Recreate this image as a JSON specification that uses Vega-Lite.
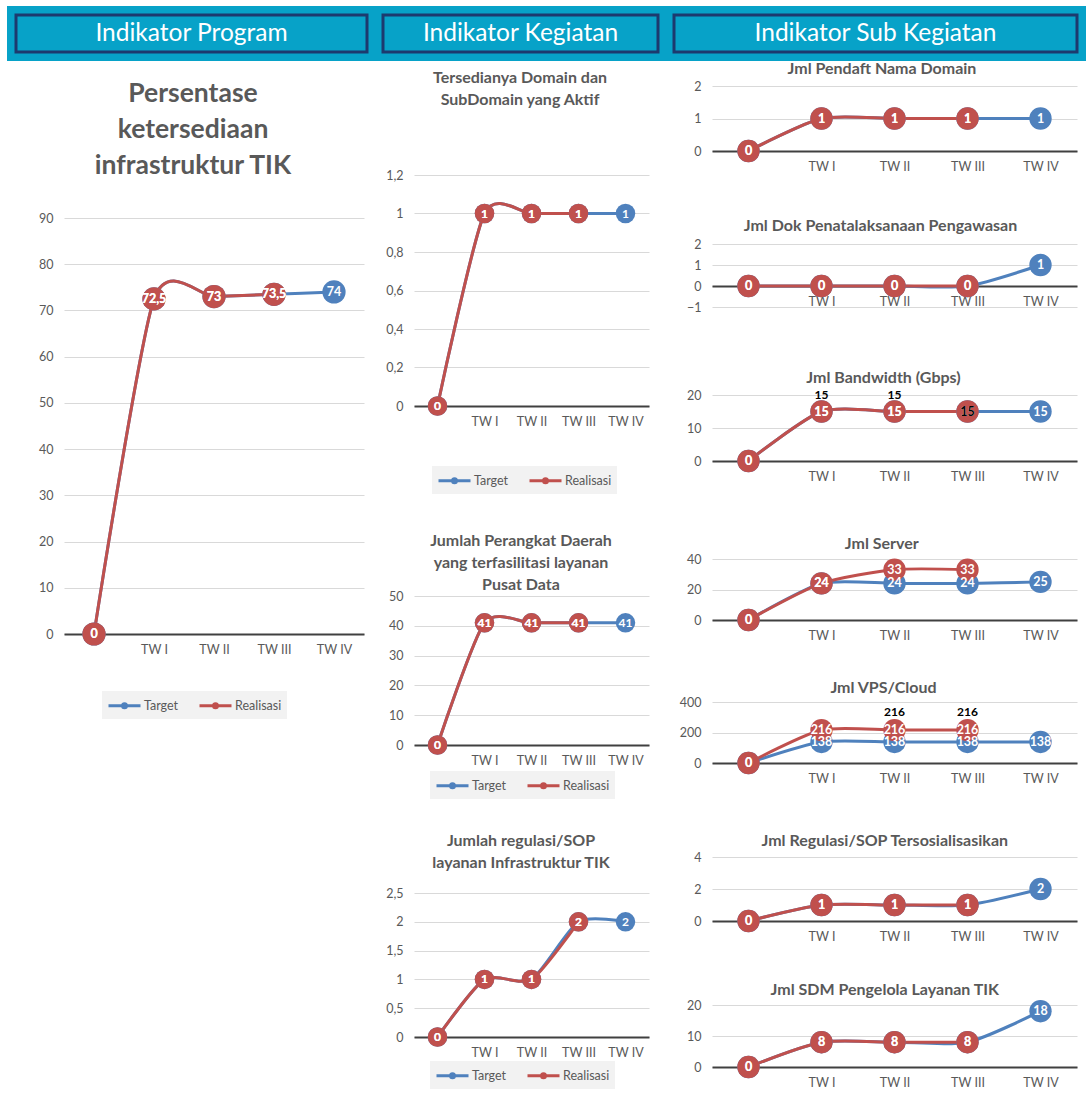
{
  "$schema": "https://vega.github.io/schema/vega-lite/v6.json",
  "background": "white",
  "padding": {"left": 5, "top": 4, "right": 0, "bottom": 0},
  "autosize": {"type": "pad"},
  "config": {
    "font": "Lato",
    "view": {"stroke": null},
    "axis": {"labelFont": "Lato", "labelColor": "#595959", "labelFontSize": 12.5, "ticks": false, "tickSize": 0, "gridColor": "#D9D9D9", "gridWidth": 1, "labelOverlap": false},
    "axisX": {"grid": false, "domain": true, "domainColor": "#404040", "domainWidth": 2, "labelPadding": 9, "labelAngle": 0},
    "axisY": {"grid": true, "domain": false, "labelPadding": 11},
    "title": {"font": "Lato", "fontWeight": "bold", "color": "#595959", "anchor": "middle", "frame": "group"},
    "locale": {"number": {"decimal": ",", "thousands": ".", "grouping": [3], "currency": ["Rp", ""]}}
  },
  "datasets": {
    "p1": [
      {"q": "", "seri": "Target", "v": 0}, {"q": "TW I", "seri": "Target", "v": 72.5}, {"q": "TW II", "seri": "Target", "v": 73}, {"q": "TW III", "seri": "Target", "v": 73.5}, {"q": "TW IV", "seri": "Target", "v": 74},
      {"q": "", "seri": "Realisasi", "v": 0}, {"q": "TW I", "seri": "Realisasi", "v": 72.5}, {"q": "TW II", "seri": "Realisasi", "v": 73}, {"q": "TW III", "seri": "Realisasi", "v": 73.5}
    ],
    "a": [
      {"q": "", "seri": "Target", "v": 0}, {"q": "TW I", "seri": "Target", "v": 1}, {"q": "TW II", "seri": "Target", "v": 1}, {"q": "TW III", "seri": "Target", "v": 1}, {"q": "TW IV", "seri": "Target", "v": 1},
      {"q": "", "seri": "Realisasi", "v": 0}, {"q": "TW I", "seri": "Realisasi", "v": 1}, {"q": "TW II", "seri": "Realisasi", "v": 1}, {"q": "TW III", "seri": "Realisasi", "v": 1}
    ],
    "b": [
      {"q": "", "seri": "Target", "v": 0}, {"q": "TW I", "seri": "Target", "v": 41}, {"q": "TW II", "seri": "Target", "v": 41}, {"q": "TW III", "seri": "Target", "v": 41}, {"q": "TW IV", "seri": "Target", "v": 41},
      {"q": "", "seri": "Realisasi", "v": 0}, {"q": "TW I", "seri": "Realisasi", "v": 41}, {"q": "TW II", "seri": "Realisasi", "v": 41}, {"q": "TW III", "seri": "Realisasi", "v": 41}
    ],
    "c": [
      {"q": "", "seri": "Target", "v": 0}, {"q": "TW I", "seri": "Target", "v": 1}, {"q": "TW II", "seri": "Target", "v": 1}, {"q": "TW III", "seri": "Target", "v": 2}, {"q": "TW IV", "seri": "Target", "v": 2},
      {"q": "", "seri": "Realisasi", "v": 0}, {"q": "TW I", "seri": "Realisasi", "v": 1}, {"q": "TW II", "seri": "Realisasi", "v": 1}, {"q": "TW III", "seri": "Realisasi", "v": 2}
    ],
    "r1": [
      {"q": "", "seri": "Target", "v": 0}, {"q": "TW I", "seri": "Target", "v": 1}, {"q": "TW II", "seri": "Target", "v": 1}, {"q": "TW III", "seri": "Target", "v": 1}, {"q": "TW IV", "seri": "Target", "v": 1},
      {"q": "", "seri": "Realisasi", "v": 0}, {"q": "TW I", "seri": "Realisasi", "v": 1}, {"q": "TW II", "seri": "Realisasi", "v": 1}, {"q": "TW III", "seri": "Realisasi", "v": 1}
    ],
    "r2": [
      {"q": "", "seri": "Target", "v": 0}, {"q": "TW I", "seri": "Target", "v": 0}, {"q": "TW II", "seri": "Target", "v": 0}, {"q": "TW III", "seri": "Target", "v": 0}, {"q": "TW IV", "seri": "Target", "v": 1},
      {"q": "", "seri": "Realisasi", "v": 0}, {"q": "TW I", "seri": "Realisasi", "v": 0}, {"q": "TW II", "seri": "Realisasi", "v": 0}, {"q": "TW III", "seri": "Realisasi", "v": 0}
    ],
    "r3": [
      {"q": "", "seri": "Target", "v": 0}, {"q": "TW I", "seri": "Target", "v": 15}, {"q": "TW II", "seri": "Target", "v": 15}, {"q": "TW III", "seri": "Target", "v": 15}, {"q": "TW IV", "seri": "Target", "v": 15},
      {"q": "", "seri": "Realisasi", "v": 0}, {"q": "TW I", "seri": "Realisasi", "v": 15}, {"q": "TW II", "seri": "Realisasi", "v": 15}, {"q": "TW III", "seri": "Realisasi", "v": 15}
    ],
    "r3x": [{"q": "TW I", "v": 15}, {"q": "TW II", "v": 15}],
    "r4": [
      {"q": "", "seri": "Target", "v": 0}, {"q": "TW I", "seri": "Target", "v": 24}, {"q": "TW II", "seri": "Target", "v": 24}, {"q": "TW III", "seri": "Target", "v": 24}, {"q": "TW IV", "seri": "Target", "v": 25},
      {"q": "", "seri": "Realisasi", "v": 0}, {"q": "TW I", "seri": "Realisasi", "v": 24}, {"q": "TW II", "seri": "Realisasi", "v": 33}, {"q": "TW III", "seri": "Realisasi", "v": 33}
    ],
    "r5": [
      {"q": "", "seri": "Target", "v": 0}, {"q": "TW I", "seri": "Target", "v": 138}, {"q": "TW II", "seri": "Target", "v": 138}, {"q": "TW III", "seri": "Target", "v": 138}, {"q": "TW IV", "seri": "Target", "v": 138},
      {"q": "", "seri": "Realisasi", "v": 0}, {"q": "TW I", "seri": "Realisasi", "v": 216}, {"q": "TW II", "seri": "Realisasi", "v": 216}, {"q": "TW III", "seri": "Realisasi", "v": 216}
    ],
    "r5x": [{"q": "TW II", "v": 216}, {"q": "TW III", "v": 216}],
    "r6": [
      {"q": "", "seri": "Target", "v": 0}, {"q": "TW I", "seri": "Target", "v": 1}, {"q": "TW II", "seri": "Target", "v": 1}, {"q": "TW III", "seri": "Target", "v": 1}, {"q": "TW IV", "seri": "Target", "v": 2},
      {"q": "", "seri": "Realisasi", "v": 0}, {"q": "TW I", "seri": "Realisasi", "v": 1}, {"q": "TW II", "seri": "Realisasi", "v": 1}, {"q": "TW III", "seri": "Realisasi", "v": 1}
    ],
    "r7": [
      {"q": "", "seri": "Target", "v": 0}, {"q": "TW I", "seri": "Target", "v": 8}, {"q": "TW II", "seri": "Target", "v": 8}, {"q": "TW III", "seri": "Target", "v": 8}, {"q": "TW IV", "seri": "Target", "v": 18},
      {"q": "", "seri": "Realisasi", "v": 0}, {"q": "TW I", "seri": "Realisasi", "v": 8}, {"q": "TW II", "seri": "Realisasi", "v": 8}, {"q": "TW III", "seri": "Realisasi", "v": 8}
    ]
  },
  "bounds": "flush",
  "spacing": 71,
  "resolve": {"scale": {"color": "independent", "fill": "independent"}, "legend": {"color": "independent", "fill": "independent"}},
  "vconcat": [
    {
      "hconcat": [
        {"width": 351, "height": 37, "data": {"values": [{"judul": "Indikator Program"}]}, "view": {"fill": "#07A2C8", "stroke": "#07A2C8", "strokeWidth": 18},
         "layer": [{"mark": {"type": "rect", "fill": "#07A2C8", "stroke": "#1D3A6E", "strokeWidth": 3}}, {"mark": {"type": "text", "color": "white", "fontSize": 24.5, "font": "Lato"}, "encoding": {"text": {"field": "judul"}}}]},
        {"width": 275, "height": 37, "data": {"values": [{"judul": "Indikator Kegiatan"}]}, "view": {"fill": "#07A2C8", "stroke": "#07A2C8", "strokeWidth": 18},
         "layer": [{"mark": {"type": "rect", "fill": "#07A2C8", "stroke": "#1D3A6E", "strokeWidth": 3}}, {"mark": {"type": "text", "color": "white", "fontSize": 24.5, "font": "Lato"}, "encoding": {"text": {"field": "judul"}}}]},
        {"width": 403, "height": 37, "data": {"values": [{"judul": "Indikator Sub Kegiatan"}]}, "view": {"fill": "#07A2C8", "stroke": "#07A2C8", "strokeWidth": 18},
         "layer": [{"mark": {"type": "rect", "fill": "#07A2C8", "stroke": "#1D3A6E", "strokeWidth": 3}}, {"mark": {"type": "text", "color": "white", "fontSize": 24.5, "font": "Lato"}, "encoding": {"text": {"field": "judul"}}}]}
      ],
      "bounds": "flush",
      "spacing": 16
    },
    {
      "bounds": "flush",
      "spacing": 47,
      "resolve": {"scale": {"color": "independent", "fill": "independent"}, "legend": {"color": "independent", "fill": "independent"}},
      "hconcat": [
        {"width": 1, "height": 1, "data": {"values": []}, "mark": "point"},
        {
          "bounds": "flush",
          "spacing": 350,
          "resolve": {"scale": {"color": "independent", "fill": "independent"}, "legend": {"color": "independent", "fill": "independent"}},
          "hconcat": [
            {
              "bounds": "flush",
              "spacing": 131,
              "resolve": {"scale": {"color": "independent", "fill": "independent"}, "legend": {"color": "independent", "fill": "independent"}},
              "vconcat": [
                {"width": 1, "height": 1, "data": {"values": []}, "mark": "point"},
                {
                  "width": 300, "height": 416, "data": {"name": "p1"},
                  "title": {"text": ["Persentase", "ketersediaan", "infrastruktur TIK"], "fontSize": 26.5, "lineHeight": 36, "offset": 33, "dx": -21},
                  "encoding": {
                    "x": {"field": "q", "type": "nominal", "scale": {"type": "point", "padding": 0.5, "domain": ["", "TW I", "TW II", "TW III", "TW IV"]}, "axis": {"title": null, "labelAngle": 0}},
                    "y": {"field": "v", "type": "quantitative", "scale": {"domain": [0, 90], "nice": false}, "axis": {"title": null, "values": [0, 10, 20, 30, 40, 50, 60, 70, 80, 90], "format": "~f"}}
                  },
                  "layer": [
                    {"transform": [{"filter": "datum.seri == 'Target'"}], "mark": {"type": "line", "interpolate": "cardinal", "tension": 0.3, "strokeWidth": 3}, "encoding": {"color": {"field": "seri", "type": "nominal", "scale": {"domain": ["Target", "Realisasi"], "range": ["#4F81BD", "#C0504D"]}, "legend": {"orient": "none", "legendX": 38, "legendY": 473, "direction": "horizontal", "title": null, "symbolType": "M-1,0L3,0M0.75,0A0.25,0.25,0,1,1,1.25,0A0.25,0.25,0,1,1,0.75,0Z", "symbolSize": 256, "symbolStrokeWidth": 3, "labelOffset": 18, "columnPadding": 14, "padding": 5, "fillColor": "#F2F2F2", "labelFontSize": 12.5, "labelColor": "#595959", "labelFont": "Lato"}}}},
                    {"transform": [{"filter": "datum.seri == 'Realisasi'"}], "mark": {"type": "line", "interpolate": "cardinal", "tension": 0.3, "strokeWidth": 3}, "encoding": {"color": {"field": "seri", "type": "nominal", "scale": {"domain": ["Target", "Realisasi"], "range": ["#4F81BD", "#C0504D"]}, "legend": {"orient": "none", "legendX": 38, "legendY": 473, "direction": "horizontal", "title": null, "symbolType": "M-1,0L3,0M0.75,0A0.25,0.25,0,1,1,1.25,0A0.25,0.25,0,1,1,0.75,0Z", "symbolSize": 256, "symbolStrokeWidth": 3, "labelOffset": 18, "columnPadding": 14, "padding": 5, "fillColor": "#F2F2F2", "labelFontSize": 12.5, "labelColor": "#595959", "labelFont": "Lato"}}}},
                    {"mark": {"type": "point", "filled": true, "opacity": 1, "size": 540}, "encoding": {"fill": {"field": "seri", "type": "nominal", "scale": {"domain": ["Target", "Realisasi"], "range": ["#4F81BD", "#C0504D"]}, "legend": null}}},
                    {"mark": {"type": "text", "color": "white", "fontWeight": "bold", "fontSize": 12.5}, "encoding": {"text": {"field": "v", "type": "quantitative", "format": "~g"}}}
                  ]
                }
              ]
            },
            {
              "bounds": "flush",
              "spacing": 298,
              "resolve": {"scale": {"color": "independent", "fill": "independent"}, "legend": {"color": "independent", "fill": "independent"}},
              "hconcat": [
                {
                  "bounds": "flush",
                  "spacing": 88,
                  "resolve": {"scale": {"color": "independent", "fill": "independent"}, "legend": {"color": "independent", "fill": "independent"}},
                  "vconcat": [
                    {"width": 1, "height": 1, "data": {"values": []}, "mark": "point"},
                    {
                      "bounds": "flush",
                      "spacing": 190,
                      "resolve": {"scale": {"color": "independent", "fill": "independent"}, "legend": {"color": "independent", "fill": "independent"}},
                      "vconcat": [
                        {
                          "width": 235, "height": 231, "data": {"name": "a"},
                          "title": {"text": ["Tersedianya Domain dan", "SubDomain yang Aktif"], "fontSize": 16, "lineHeight": 22, "offset": 61, "dx": -11.5},
                          "encoding": {
                            "x": {"field": "q", "type": "nominal", "scale": {"type": "point", "padding": 0.5, "domain": ["", "TW I", "TW II", "TW III", "TW IV"]}, "axis": {"title": null, "labelAngle": 0}},
                            "y": {"field": "v", "type": "quantitative", "scale": {"domain": [0, 1.2], "nice": false}, "axis": {"title": null, "values": [0, 0.2, 0.4, 0.6, 0.8, 1, 1.2], "format": "~f"}}
                          },
                          "layer": [
                            {"transform": [{"filter": "datum.seri == 'Target'"}], "mark": {"type": "line", "interpolate": "cardinal", "tension": 0.3, "strokeWidth": 3}, "encoding": {"color": {"field": "seri", "type": "nominal", "scale": {"domain": ["Target", "Realisasi"], "range": ["#4F81BD", "#C0504D"]}, "legend": {"orient": "none", "legendX": 18, "legendY": 291, "direction": "horizontal", "title": null, "symbolType": "M-1,0L3,0M0.75,0A0.25,0.25,0,1,1,1.25,0A0.25,0.25,0,1,1,0.75,0Z", "symbolSize": 256, "symbolStrokeWidth": 3, "labelOffset": 18, "columnPadding": 14, "padding": 5, "fillColor": "#F2F2F2", "labelFontSize": 12.5, "labelColor": "#595959", "labelFont": "Lato"}}}},
                            {"transform": [{"filter": "datum.seri == 'Realisasi'"}], "mark": {"type": "line", "interpolate": "cardinal", "tension": 0.3, "strokeWidth": 3}, "encoding": {"color": {"field": "seri", "type": "nominal", "scale": {"domain": ["Target", "Realisasi"], "range": ["#4F81BD", "#C0504D"]}, "legend": {"orient": "none", "legendX": 18, "legendY": 291, "direction": "horizontal", "title": null, "symbolType": "M-1,0L3,0M0.75,0A0.25,0.25,0,1,1,1.25,0A0.25,0.25,0,1,1,0.75,0Z", "symbolSize": 256, "symbolStrokeWidth": 3, "labelOffset": 18, "columnPadding": 14, "padding": 5, "fillColor": "#F2F2F2", "labelFontSize": 12.5, "labelColor": "#595959", "labelFont": "Lato"}}}},
                            {"mark": {"type": "point", "filled": true, "opacity": 1, "size": 380}, "encoding": {"fill": {"field": "seri", "type": "nominal", "scale": {"domain": ["Target", "Realisasi"], "range": ["#4F81BD", "#C0504D"]}, "legend": null}}},
                            {"mark": {"type": "text", "color": "white", "fontWeight": "bold", "fontSize": 12}, "encoding": {"text": {"field": "v", "type": "quantitative", "format": "~g"}}}
                          ]
                        },
                        {
                          "bounds": "flush",
                          "spacing": 148,
                          "resolve": {"scale": {"color": "independent", "fill": "independent"}, "legend": {"color": "independent", "fill": "independent"}},
                          "vconcat": [
                            {
                              "width": 235, "height": 149, "data": {"name": "b"},
                              "title": {"text": ["Jumlah Perangkat Daerah", "yang terfasilitasi layanan", "Pusat Data"], "fontSize": 16, "lineHeight": 22, "offset": -3, "dx": -10.5},
                              "encoding": {
                                "x": {"field": "q", "type": "nominal", "scale": {"type": "point", "padding": 0.5, "domain": ["", "TW I", "TW II", "TW III", "TW IV"]}, "axis": {"title": null, "labelAngle": 0}},
                                "y": {"field": "v", "type": "quantitative", "scale": {"domain": [0, 50], "nice": false}, "axis": {"title": null, "values": [0, 10, 20, 30, 40, 50], "format": "~f"}}
                              },
                              "layer": [
                                {"transform": [{"filter": "datum.seri == 'Target'"}], "mark": {"type": "line", "interpolate": "cardinal", "tension": 0.3, "strokeWidth": 3}, "encoding": {"color": {"field": "seri", "type": "nominal", "scale": {"domain": ["Target", "Realisasi"], "range": ["#4F81BD", "#C0504D"]}, "legend": {"orient": "none", "legendX": 16, "legendY": 175, "direction": "horizontal", "title": null, "symbolType": "M-1,0L3,0M0.75,0A0.25,0.25,0,1,1,1.25,0A0.25,0.25,0,1,1,0.75,0Z", "symbolSize": 256, "symbolStrokeWidth": 3, "labelOffset": 18, "columnPadding": 14, "padding": 5, "fillColor": "#F2F2F2", "labelFontSize": 12.5, "labelColor": "#595959", "labelFont": "Lato"}}}},
                                {"transform": [{"filter": "datum.seri == 'Realisasi'"}], "mark": {"type": "line", "interpolate": "cardinal", "tension": 0.3, "strokeWidth": 3}, "encoding": {"color": {"field": "seri", "type": "nominal", "scale": {"domain": ["Target", "Realisasi"], "range": ["#4F81BD", "#C0504D"]}, "legend": {"orient": "none", "legendX": 16, "legendY": 175, "direction": "horizontal", "title": null, "symbolType": "M-1,0L3,0M0.75,0A0.25,0.25,0,1,1,1.25,0A0.25,0.25,0,1,1,0.75,0Z", "symbolSize": 256, "symbolStrokeWidth": 3, "labelOffset": 18, "columnPadding": 14, "padding": 5, "fillColor": "#F2F2F2", "labelFontSize": 12.5, "labelColor": "#595959", "labelFont": "Lato"}}}},
                                {"mark": {"type": "point", "filled": true, "opacity": 1, "size": 380}, "encoding": {"fill": {"field": "seri", "type": "nominal", "scale": {"domain": ["Target", "Realisasi"], "range": ["#4F81BD", "#C0504D"]}, "legend": null}}},
                                {"mark": {"type": "text", "color": "white", "fontWeight": "bold", "fontSize": 12}, "encoding": {"text": {"field": "v", "type": "quantitative", "format": "~g"}}}
                              ]
                            },
                            {
                              "width": 235, "height": 144, "data": {"name": "c"},
                              "title": {"text": ["Jumlah regulasi/SOP", "layanan Infrastruktur TIK"], "fontSize": 16, "lineHeight": 22, "offset": 16, "dx": -10.5},
                              "encoding": {
                                "x": {"field": "q", "type": "nominal", "scale": {"type": "point", "padding": 0.5, "domain": ["", "TW I", "TW II", "TW III", "TW IV"]}, "axis": {"title": null, "labelAngle": 0}},
                                "y": {"field": "v", "type": "quantitative", "scale": {"domain": [0, 2.5], "nice": false}, "axis": {"title": null, "values": [0, 0.5, 1, 1.5, 2, 2.5], "format": "~f"}}
                              },
                              "layer": [
                                {"transform": [{"filter": "datum.seri == 'Target'"}], "mark": {"type": "line", "interpolate": "cardinal", "tension": 0.3, "strokeWidth": 3}, "encoding": {"color": {"field": "seri", "type": "nominal", "scale": {"domain": ["Target", "Realisasi"], "range": ["#4F81BD", "#C0504D"]}, "legend": {"orient": "none", "legendX": 16, "legendY": 168, "direction": "horizontal", "title": null, "symbolType": "M-1,0L3,0M0.75,0A0.25,0.25,0,1,1,1.25,0A0.25,0.25,0,1,1,0.75,0Z", "symbolSize": 256, "symbolStrokeWidth": 3, "labelOffset": 18, "columnPadding": 14, "padding": 5, "fillColor": "#F2F2F2", "labelFontSize": 12.5, "labelColor": "#595959", "labelFont": "Lato"}}}},
                                {"transform": [{"filter": "datum.seri == 'Realisasi'"}], "mark": {"type": "line", "interpolate": "cardinal", "tension": 0.3, "strokeWidth": 3}, "encoding": {"color": {"field": "seri", "type": "nominal", "scale": {"domain": ["Target", "Realisasi"], "range": ["#4F81BD", "#C0504D"]}, "legend": {"orient": "none", "legendX": 16, "legendY": 168, "direction": "horizontal", "title": null, "symbolType": "M-1,0L3,0M0.75,0A0.25,0.25,0,1,1,1.25,0A0.25,0.25,0,1,1,0.75,0Z", "symbolSize": 256, "symbolStrokeWidth": 3, "labelOffset": 18, "columnPadding": 14, "padding": 5, "fillColor": "#F2F2F2", "labelFontSize": 12.5, "labelColor": "#595959", "labelFont": "Lato"}}}},
                                {"mark": {"type": "point", "filled": true, "opacity": 1, "size": 380}, "encoding": {"fill": {"field": "seri", "type": "nominal", "scale": {"domain": ["Target", "Realisasi"], "range": ["#4F81BD", "#C0504D"]}, "legend": null}}},
                                {"mark": {"type": "text", "color": "white", "fontWeight": "bold", "fontSize": 12}, "encoding": {"text": {"field": "v", "type": "quantitative", "format": "~g"}}}
                              ]
                            }
                          ]
                        }
                      ]
                    }
                  ]
                },
                {
                  "bounds": "flush",
                  "spacing": 93,
                  "resolve": {"scale": {"color": "independent", "fill": "independent"}, "legend": {"color": "independent", "fill": "independent"}},
                  "vconcat": [
                    {
                      "width": 365, "height": 65, "data": {"name": "r1"},
                      "title": {"text": "Jml Pendaft Nama Domain", "fontSize": 16, "offset": 3, "dx": -12.5},
                      "encoding": {
                        "x": {"field": "q", "type": "nominal", "scale": {"type": "point", "padding": 0.5, "domain": ["", "TW I", "TW II", "TW III", "TW IV"]}, "axis": {"title": null, "labelAngle": 0}},
                        "y": {"field": "v", "type": "quantitative", "scale": {"domain": [0, 2], "nice": false}, "axis": {"title": null, "values": [0, 1, 2], "format": "~f"}}
                      },
                      "layer": [
                        {"transform": [{"filter": "datum.seri == 'Target'"}], "mark": {"type": "line", "interpolate": "cardinal", "tension": 0.3, "strokeWidth": 3}, "encoding": {"color": {"field": "seri", "type": "nominal", "scale": {"domain": ["Target", "Realisasi"], "range": ["#4F81BD", "#C0504D"]}, "legend": null}}},
                        {"transform": [{"filter": "datum.seri == 'Realisasi'"}], "mark": {"type": "line", "interpolate": "cardinal", "tension": 0.3, "strokeWidth": 3}, "encoding": {"color": {"field": "seri", "type": "nominal", "scale": {"domain": ["Target", "Realisasi"], "range": ["#4F81BD", "#C0504D"]}, "legend": null}}},
                        {"mark": {"type": "point", "filled": true, "opacity": 1, "size": 500}, "encoding": {"fill": {"field": "seri", "type": "nominal", "scale": {"domain": ["Target", "Realisasi"], "range": ["#4F81BD", "#C0504D"]}, "legend": null}}},
                        {"mark": {"type": "text", "color": "white", "fontWeight": "bold", "fontSize": 12.5}, "encoding": {"text": {"field": "v", "type": "quantitative", "format": "~g"}}}
                      ]
                    },
                    {
                      "bounds": "flush",
                      "spacing": 88,
                      "resolve": {"scale": {"color": "independent", "fill": "independent"}, "legend": {"color": "independent", "fill": "independent"}},
                      "vconcat": [
                        {
                          "width": 365, "height": 63, "data": {"name": "r2"},
                          "title": {"text": "Jml Dok Penatalaksanaan Pengawasan", "fontSize": 16, "offset": 4, "dx": -14},
                          "encoding": {
                            "x": {"field": "q", "type": "nominal", "scale": {"type": "point", "padding": 0.5, "domain": ["", "TW I", "TW II", "TW III", "TW IV"]}, "axis": {"title": null, "labelAngle": 0, "offset": -21}},
                            "y": {"field": "v", "type": "quantitative", "scale": {"domain": [-1, 2], "nice": false}, "axis": {"title": null, "values": [-1, 0, 1, 2], "format": "~f"}}
                          },
                          "layer": [
                            {"transform": [{"filter": "datum.seri == 'Target'"}], "mark": {"type": "line", "interpolate": "cardinal", "tension": 0.3, "strokeWidth": 3}, "encoding": {"color": {"field": "seri", "type": "nominal", "scale": {"domain": ["Target", "Realisasi"], "range": ["#4F81BD", "#C0504D"]}, "legend": null}}},
                            {"transform": [{"filter": "datum.seri == 'Realisasi'"}], "mark": {"type": "line", "interpolate": "cardinal", "tension": 0.3, "strokeWidth": 3}, "encoding": {"color": {"field": "seri", "type": "nominal", "scale": {"domain": ["Target", "Realisasi"], "range": ["#4F81BD", "#C0504D"]}, "legend": null}}},
                            {"mark": {"type": "point", "filled": true, "opacity": 1, "size": 500}, "encoding": {"fill": {"field": "seri", "type": "nominal", "scale": {"domain": ["Target", "Realisasi"], "range": ["#4F81BD", "#C0504D"]}, "legend": null}}},
                            {"mark": {"type": "text", "color": "white", "fontWeight": "bold", "fontSize": 12.5}, "encoding": {"text": {"field": "v", "type": "quantitative", "format": "~g"}}}
                          ]
                        },
                        {
                          "bounds": "flush",
                          "spacing": 98,
                          "resolve": {"scale": {"color": "independent", "fill": "independent"}, "legend": {"color": "independent", "fill": "independent"}},
                          "vconcat": [
                            {
                              "width": 365, "height": 66, "data": {"name": "r3"},
                              "title": {"text": "Jml Bandwidth (Gbps)", "fontSize": 16, "offset": 3, "dx": -11},
                              "encoding": {
                                "x": {"field": "q", "type": "nominal", "scale": {"type": "point", "padding": 0.5, "domain": ["", "TW I", "TW II", "TW III", "TW IV"]}, "axis": {"title": null, "labelAngle": 0}},
                                "y": {"field": "v", "type": "quantitative", "scale": {"domain": [0, 20], "nice": false}, "axis": {"title": null, "values": [0, 10, 20], "format": "~f"}}
                              },
                              "layer": [
                                {"transform": [{"filter": "datum.seri == 'Target'"}], "mark": {"type": "line", "interpolate": "cardinal", "tension": 0.3, "strokeWidth": 3}, "encoding": {"color": {"field": "seri", "type": "nominal", "scale": {"domain": ["Target", "Realisasi"], "range": ["#4F81BD", "#C0504D"]}, "legend": null}}},
                                {"transform": [{"filter": "datum.seri == 'Realisasi'"}], "mark": {"type": "line", "interpolate": "cardinal", "tension": 0.3, "strokeWidth": 3}, "encoding": {"color": {"field": "seri", "type": "nominal", "scale": {"domain": ["Target", "Realisasi"], "range": ["#4F81BD", "#C0504D"]}, "legend": null}}},
                                {"mark": {"type": "point", "filled": true, "opacity": 1, "size": 500}, "encoding": {"fill": {"field": "seri", "type": "nominal", "scale": {"domain": ["Target", "Realisasi"], "range": ["#4F81BD", "#C0504D"]}, "legend": null}}},
                                {"mark": {"type": "text", "fontWeight": "bold", "fontSize": 12.5}, "encoding": {"text": {"field": "v", "type": "quantitative", "format": "~g"}, "color": {"condition": {"test": "datum.q == 'TW III' && datum.seri == 'Realisasi'", "value": "black"}, "value": "white"}}},
                                {"data": {"name": "r3x"}, "mark": {"type": "text", "color": "black", "fontWeight": "bold", "fontSize": 12, "dy": -17}, "encoding": {"text": {"field": "v", "type": "quantitative", "format": "~g"}}}
                              ]
                            },
                            {
                              "bounds": "flush",
                              "spacing": 82,
                              "resolve": {"scale": {"color": "independent", "fill": "independent"}, "legend": {"color": "independent", "fill": "independent"}},
                              "vconcat": [
                                {
                                  "width": 365, "height": 61, "data": {"name": "r4"},
                                  "title": {"text": "Jml Server", "fontSize": 16, "offset": 1, "dx": -12.7},
                                  "encoding": {
                                    "x": {"field": "q", "type": "nominal", "scale": {"type": "point", "padding": 0.5, "domain": ["", "TW I", "TW II", "TW III", "TW IV"]}, "axis": {"title": null, "labelAngle": 0}},
                                    "y": {"field": "v", "type": "quantitative", "scale": {"domain": [0, 40], "nice": false}, "axis": {"title": null, "values": [0, 20, 40], "format": "~f"}}
                                  },
                                  "layer": [
                                    {"transform": [{"filter": "datum.seri == 'Target'"}], "mark": {"type": "line", "interpolate": "cardinal", "tension": 0.3, "strokeWidth": 3}, "encoding": {"color": {"field": "seri", "type": "nominal", "scale": {"domain": ["Target", "Realisasi"], "range": ["#4F81BD", "#C0504D"]}, "legend": null}}},
                                    {"transform": [{"filter": "datum.seri == 'Realisasi'"}], "mark": {"type": "line", "interpolate": "cardinal", "tension": 0.3, "strokeWidth": 3}, "encoding": {"color": {"field": "seri", "type": "nominal", "scale": {"domain": ["Target", "Realisasi"], "range": ["#4F81BD", "#C0504D"]}, "legend": null}}},
                                    {"mark": {"type": "point", "filled": true, "opacity": 1, "size": 500}, "encoding": {"fill": {"field": "seri", "type": "nominal", "scale": {"domain": ["Target", "Realisasi"], "range": ["#4F81BD", "#C0504D"]}, "legend": null}}},
                                    {"mark": {"type": "text", "color": "white", "fontWeight": "bold", "fontSize": 12.5}, "encoding": {"text": {"field": "v", "type": "quantitative", "format": "~g"}}}
                                  ]
                                },
                                {
                                  "bounds": "flush",
                                  "spacing": 94,
                                  "resolve": {"scale": {"color": "independent", "fill": "independent"}, "legend": {"color": "independent", "fill": "independent"}},
                                  "vconcat": [
                                    {
                                      "width": 365, "height": 61, "data": {"name": "r5"},
                                      "title": {"text": "Jml VPS/Cloud", "fontSize": 16, "offset": 0, "dx": -11},
                                      "encoding": {
                                        "x": {"field": "q", "type": "nominal", "scale": {"type": "point", "padding": 0.5, "domain": ["", "TW I", "TW II", "TW III", "TW IV"]}, "axis": {"title": null, "labelAngle": 0}},
                                        "y": {"field": "v", "type": "quantitative", "scale": {"domain": [0, 400], "nice": false}, "axis": {"title": null, "values": [0, 200, 400], "format": "~f"}}
                                      },
                                      "layer": [
                                        {"transform": [{"filter": "datum.seri == 'Target'"}], "mark": {"type": "line", "interpolate": "cardinal", "tension": 0.3, "strokeWidth": 3}, "encoding": {"color": {"field": "seri", "type": "nominal", "scale": {"domain": ["Target", "Realisasi"], "range": ["#4F81BD", "#C0504D"]}, "legend": null}}},
                                        {"transform": [{"filter": "datum.seri == 'Realisasi'"}], "mark": {"type": "line", "interpolate": "cardinal", "tension": 0.3, "strokeWidth": 3}, "encoding": {"color": {"field": "seri", "type": "nominal", "scale": {"domain": ["Target", "Realisasi"], "range": ["#4F81BD", "#C0504D"]}, "legend": null}}},
                                        {"mark": {"type": "point", "filled": true, "opacity": 1, "size": 500}, "encoding": {"fill": {"field": "seri", "type": "nominal", "scale": {"domain": ["Target", "Realisasi"], "range": ["#4F81BD", "#C0504D"]}, "legend": null}}},
                                        {"mark": {"type": "text", "color": "white", "fontWeight": "bold", "fontSize": 12.5}, "encoding": {"text": {"field": "v", "type": "quantitative", "format": "~g"}}},
                                        {"data": {"name": "r5x"}, "mark": {"type": "text", "color": "black", "fontWeight": "bold", "fontSize": 12, "dy": -18}, "encoding": {"text": {"field": "v", "type": "quantitative", "format": "~g"}}}
                                      ]
                                    },
                                    {
                                      "bounds": "flush",
                                      "spacing": 84,
                                      "resolve": {"scale": {"color": "independent", "fill": "independent"}, "legend": {"color": "independent", "fill": "independent"}},
                                      "vconcat": [
                                        {
                                          "width": 365, "height": 64, "data": {"name": "r6"},
                                          "title": {"text": "Jml Regulasi/SOP Tersosialisasikan", "fontSize": 16, "offset": 2, "dx": -9.7},
                                          "encoding": {
                                            "x": {"field": "q", "type": "nominal", "scale": {"type": "point", "padding": 0.5, "domain": ["", "TW I", "TW II", "TW III", "TW IV"]}, "axis": {"title": null, "labelAngle": 0}},
                                            "y": {"field": "v", "type": "quantitative", "scale": {"domain": [0, 4], "nice": false}, "axis": {"title": null, "values": [0, 2, 4], "format": "~f"}}
                                          },
                                          "layer": [
                                            {"transform": [{"filter": "datum.seri == 'Target'"}], "mark": {"type": "line", "interpolate": "cardinal", "tension": 0.3, "strokeWidth": 3}, "encoding": {"color": {"field": "seri", "type": "nominal", "scale": {"domain": ["Target", "Realisasi"], "range": ["#4F81BD", "#C0504D"]}, "legend": null}}},
                                            {"transform": [{"filter": "datum.seri == 'Realisasi'"}], "mark": {"type": "line", "interpolate": "cardinal", "tension": 0.3, "strokeWidth": 3}, "encoding": {"color": {"field": "seri", "type": "nominal", "scale": {"domain": ["Target", "Realisasi"], "range": ["#4F81BD", "#C0504D"]}, "legend": null}}},
                                            {"mark": {"type": "point", "filled": true, "opacity": 1, "size": 500}, "encoding": {"fill": {"field": "seri", "type": "nominal", "scale": {"domain": ["Target", "Realisasi"], "range": ["#4F81BD", "#C0504D"]}, "legend": null}}},
                                            {"mark": {"type": "text", "color": "white", "fontWeight": "bold", "fontSize": 12.5}, "encoding": {"text": {"field": "v", "type": "quantitative", "format": "~g"}}}
                                          ]
                                        },
                                        {
                                          "width": 365, "height": 62, "data": {"name": "r7"},
                                          "title": {"text": "Jml SDM Pengelola Layanan TIK", "fontSize": 16, "offset": 1, "dx": -9.7},
                                          "encoding": {
                                            "x": {"field": "q", "type": "nominal", "scale": {"type": "point", "padding": 0.5, "domain": ["", "TW I", "TW II", "TW III", "TW IV"]}, "axis": {"title": null, "labelAngle": 0}},
                                            "y": {"field": "v", "type": "quantitative", "scale": {"domain": [0, 20], "nice": false}, "axis": {"title": null, "values": [0, 10, 20], "format": "~f"}}
                                          },
                                          "layer": [
                                            {"transform": [{"filter": "datum.seri == 'Target'"}], "mark": {"type": "line", "interpolate": "cardinal", "tension": 0.3, "strokeWidth": 3}, "encoding": {"color": {"field": "seri", "type": "nominal", "scale": {"domain": ["Target", "Realisasi"], "range": ["#4F81BD", "#C0504D"]}, "legend": null}}},
                                            {"transform": [{"filter": "datum.seri == 'Realisasi'"}], "mark": {"type": "line", "interpolate": "cardinal", "tension": 0.3, "strokeWidth": 3}, "encoding": {"color": {"field": "seri", "type": "nominal", "scale": {"domain": ["Target", "Realisasi"], "range": ["#4F81BD", "#C0504D"]}, "legend": null}}},
                                            {"mark": {"type": "point", "filled": true, "opacity": 1, "size": 500}, "encoding": {"fill": {"field": "seri", "type": "nominal", "scale": {"domain": ["Target", "Realisasi"], "range": ["#4F81BD", "#C0504D"]}, "legend": null}}},
                                            {"mark": {"type": "text", "color": "white", "fontWeight": "bold", "fontSize": 12.5}, "encoding": {"text": {"field": "v", "type": "quantitative", "format": "~g"}}}
                                          ]
                                        }
                                      ]
                                    }
                                  ]
                                }
                              ]
                            }
                          ]
                        }
                      ]
                    }
                  ]
                }
              ]
            }
          ]
        }
      ]
    }
  ]
}
